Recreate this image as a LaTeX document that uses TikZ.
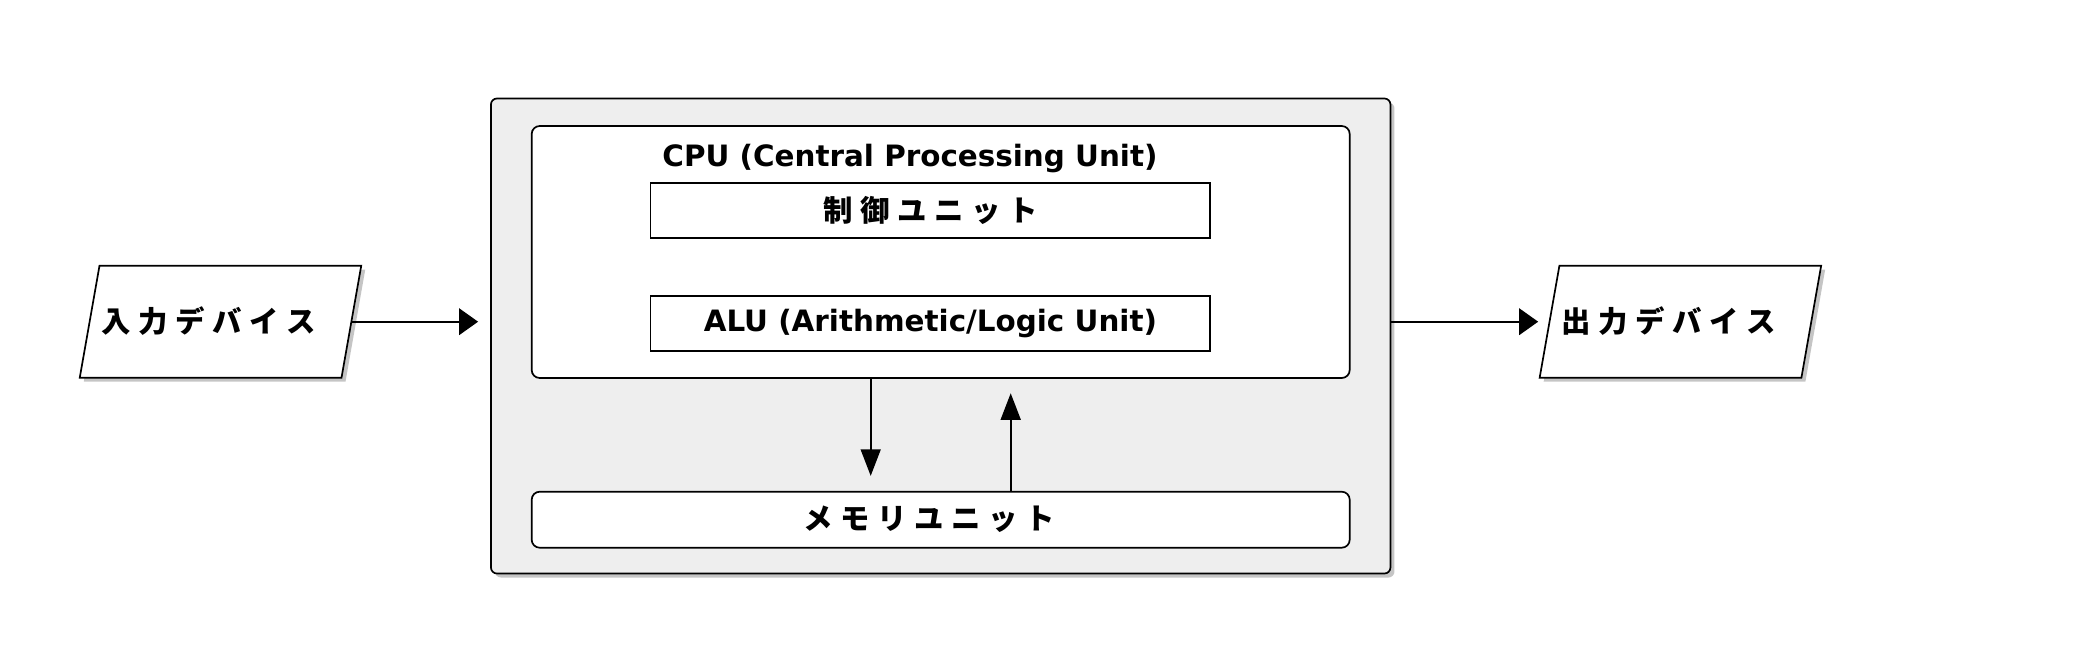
\documentclass[tikz,border=0pt]{standalone}
\usepackage{fontspec}
\setmainfont{DejaVu Sans}
\newfontfamily\jpfont{Noto Sans CJK JP}
\usetikzlibrary{arrows.meta,shapes.geometric,shadows,positioning}
\definecolor{boxgray}{HTML}{EEEEEE}
\newcommand{\js}{\hspace{0.26em}}

\begin{document}
\begin{tikzpicture}[x=1pt, y=1pt, line width=0.85pt,
	font=\fontsize{14.7}{17}\selectfont\bfseries,
	>={Triangle[length=9.5pt,width=13.3pt]},
	vtip/.style={-{Triangle[length=13.3pt,width=10pt]}},
	panel/.style={draw, fill=boxgray, rounded corners=3pt,
		drop shadow={shadow xshift=2pt, shadow yshift=-2pt, fill=black!45}},
	cpubox/.style={draw, fill=white, rounded corners=4pt, inner sep=0pt},
	unitbox/.style={draw, fill=white, minimum width=279.85pt, minimum height=27.8pt, inner sep=0pt},
	iobox/.style={draw, fill=white, trapezium, trapezium left angle=80, trapezium right angle=100,
		text width=121pt, align=center, text height=33.6pt, text depth=22.4pt, inner sep=0pt,
		drop shadow={shadow xshift=2pt, shadow yshift=-2pt, fill=black!45}}]
	\useasboundingbox (0,0) rectangle (1050,-322);

	% Define nodes
	\node (comp) [panel, minimum width=449.75pt, minimum height=237.5pt] at (470.35,-168) {};
	\node (cpu) [cpubox, minimum width=409pt, minimum height=126pt] at (470.35,-126) {};
	\node (cputitle) [anchor=base] at (455,-83) {CPU (Central Processing Unit)};
	\node (ctl) [unitbox] at (465.2,-105.25) {\jpfont 制\js 御\js ユ\js ニ\js ッ\js ト};
	\node (alu) [unitbox, below=27.85pt of ctl] {ALU (Arithmetic/Logic Unit)};
	\node (mem) [cpubox, minimum width=409pt, minimum height=28pt, below=56pt of cpu]
		{\jpfont メ\js モ\js リ\js ユ\js ニ\js ッ\js ト\hspace*{11.5pt}};

	\node (in) [iobox] at (110.25,-160.85) {\mbox{\jpfont 入\js 力\js デ\js バ\js イ\js ス\hspace{12pt}}};
	\node (out) [iobox] at (840.2,-160.85) {\mbox{\jpfont 出\js 力\js デ\js バ\js イ\js ス\hspace{12pt}}};

	% Draw edges
	\path[->]
	(in.east) edge [shorten >=6pt] (in.east -| comp.west)
	(comp.east |- out.west) edge [shorten >=5.25pt] (out.west);
	\path[vtip]
	([xshift=-35pt]cpu.south) edge [shorten >=7.5pt] ([xshift=-35pt]mem.north)
	([xshift=35pt]mem.north) edge [shorten >=7.2pt] ([xshift=35pt]cpu.south);
\end{tikzpicture}
\end{document}
